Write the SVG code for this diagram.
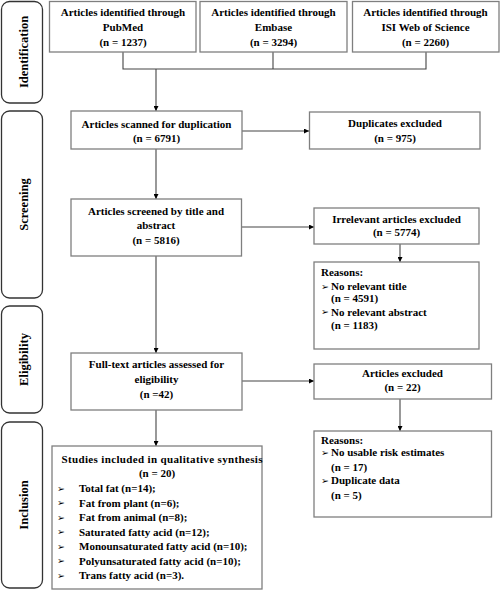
<svg xmlns="http://www.w3.org/2000/svg" width="500" height="592" viewBox="0 0 500 592">
<defs>
<marker id="ah" viewBox="0 0 10 10" refX="10" refY="5" markerWidth="5" markerHeight="5" orient="auto" markerUnits="userSpaceOnUse">
<path d="M0,0 L10,5 L0,10 z" fill="#000"/>
</marker>
</defs>
<style>
text{font-family:"Liberation Serif","Times New Roman",serif;font-weight:bold;font-size:11px;fill:#000}
.box{fill:#fff;stroke:#7f7f7f;stroke-width:1.3}
.stage{fill:#fff;stroke:#333;stroke-width:1.3}
.c{text-anchor:middle}
.st{font-size:12.5px;text-anchor:middle}
.b{font-family:"DejaVu Sans",sans-serif;font-size:9.5px}
.ln{fill:none;stroke:#444;stroke-width:1.1}
.ar{fill:none;stroke:#444;stroke-width:1.1;marker-end:url(#ah)}
</style>
<rect width="500" height="592" fill="#fff"/>
<g id="stage-identification"><rect class="stage" x="1.5" y="1.5" width="41" height="101.5" rx="8"/><text class="st" transform="translate(28,52) rotate(-90)">Identification</text></g>
<g id="stage-screening"><rect class="stage" x="1.5" y="111" width="41" height="187" rx="8"/><text class="st" transform="translate(28,204.5) rotate(-90)">Screening</text></g>
<g id="stage-eligibility"><rect class="stage" x="1.5" y="306" width="41" height="107" rx="8"/><text class="st" transform="translate(28,359.5) rotate(-90)">Eligibility</text></g>
<g id="stage-inclusion"><rect class="stage" x="1.5" y="422" width="41" height="166" rx="8"/><text class="st" transform="translate(28,505) rotate(-90)">Inclusion</text></g>

<g id="connectors">
<polyline class="ln" points="123,52 123,69 426,69 426,52"/>
<line class="ln" x1="273" y1="52" x2="273" y2="69"/>
<line class="ar" x1="156" y1="69" x2="156" y2="111"/>
<line class="ar" x1="242" y1="131" x2="309" y2="131"/>
<line class="ar" x1="156" y1="149" x2="156" y2="199"/>
<line class="ar" x1="241" y1="227" x2="314" y2="227"/>
<line class="ar" x1="400" y1="244" x2="400" y2="262"/>
<line class="ar" x1="156" y1="256" x2="156" y2="353"/>
<line class="ar" x1="242" y1="381" x2="314" y2="381"/>
<line class="ar" x1="400" y1="399" x2="400" y2="431"/>
<line class="ar" x1="156" y1="410" x2="156" y2="446"/>
</g>

<g id="pubmed"><rect class="box" x="49.5" y="1.5" width="146.5" height="50.5"/><text class="c" x="123" y="16">Articles identified through</text><text class="c" x="123" y="31">PubMed</text><text class="c" x="123" y="46">(n = 1237)</text></g>
<g id="embase"><rect class="box" x="200" y="1.5" width="147" height="50.5"/><text class="c" x="273.5" y="16">Articles identified through</text><text class="c" x="273.5" y="31">Embase</text><text class="c" x="273.5" y="46">(n = 3294)</text></g>
<g id="isi"><rect class="box" x="352.5" y="1.5" width="146.5" height="50.5"/><text class="c" x="425.5" y="16">Articles identified through</text><text class="c" x="425.5" y="31">ISI Web of Science</text><text class="c" x="425.5" y="46">(n = 2260)</text></g>

<g id="scanned"><rect class="box" x="71" y="111" width="171" height="38"/><text class="c" x="156.5" y="128">Articles scanned for duplication</text><text class="c" x="156.5" y="142">(n = 6791)</text></g>
<g id="duplicates"><rect class="box" x="309.5" y="112" width="170.5" height="37"/><text class="c" x="395" y="127">Duplicates excluded</text><text class="c" x="395" y="142">(n = 975)</text></g>

<g id="screened"><rect class="box" x="71" y="199" width="170.5" height="57"/><text class="c" x="156" y="214.5">Articles screened by title and</text><text class="c" x="156" y="229">abstract</text><text class="c" x="156" y="244">(n = 5816)</text></g>
<g id="irrelevant"><rect class="box" x="314" y="208" width="165" height="36"/><text class="c" x="396.5" y="223">Irrelevant articles excluded</text><text class="c" x="396.5" y="236">(n = 5774)</text></g>
<g id="reasons1"><rect class="box" x="314" y="262" width="165" height="87"/>
<text x="321" y="276">Reasons:</text>
<text class="b" x="321" y="289.5">➢</text><text x="331" y="290">No relevant title</text>
<text x="331" y="302">(n = 4591)</text>
<text class="b" x="321" y="315">➢</text><text x="331" y="315.5">No relevant abstract</text>
<text x="331" y="329">(n = 1183)</text></g>

<g id="fulltext"><rect class="box" x="71" y="353" width="171" height="57"/><text class="c" x="156.5" y="368">Full-text articles assessed for</text><text class="c" x="156.5" y="383">eligibility</text><text class="c" x="156.5" y="398">(n =42)</text></g>
<g id="excluded"><rect class="box" x="314" y="364" width="177.5" height="35"/><text class="c" x="402.5" y="377">Articles excluded</text><text class="c" x="402.5" y="390.5">(n = 22)</text></g>
<g id="reasons2"><rect class="box" x="314" y="431" width="177.5" height="86"/>
<text x="321" y="444">Reasons:</text>
<text class="b" x="321" y="455.5">➢</text><text x="331" y="456">No usable risk estimates</text>
<text x="331" y="471">(n = 17)</text>
<text class="b" x="321" y="483.5">➢</text><text x="331" y="484">Duplicate data</text>
<text x="331" y="499">(n = 5)</text></g>

<g id="included"><rect class="box" x="52" y="446" width="210" height="143"/>
<text x="61.5" y="462.5" textLength="201" lengthAdjust="spacing">Studies included in qualitative synthesis</text>
<text class="c" x="157" y="477">(n = 20)</text>
<text class="b" x="57" y="491.5">➢</text><text x="79" y="492">Total fat (n=14);</text>
<text class="b" x="57" y="506">➢</text><text x="79" y="506.5">Fat from plant (n=6);</text>
<text class="b" x="57" y="520.5">➢</text><text x="79" y="521">Fat from animal (n=8);</text>
<text class="b" x="57" y="535">➢</text><text x="79" y="535.5">Saturated fatty acid (n=12);</text>
<text class="b" x="57" y="549.5">➢</text><text x="79" y="550">Monounsaturated fatty acid (n=10);</text>
<text class="b" x="57" y="564">➢</text><text x="79" y="564.5">Polyunsaturated fatty acid (n=10);</text>
<text class="b" x="57" y="578.5">➢</text><text x="79" y="579">Trans fatty acid (n=3).</text></g>
</svg>
